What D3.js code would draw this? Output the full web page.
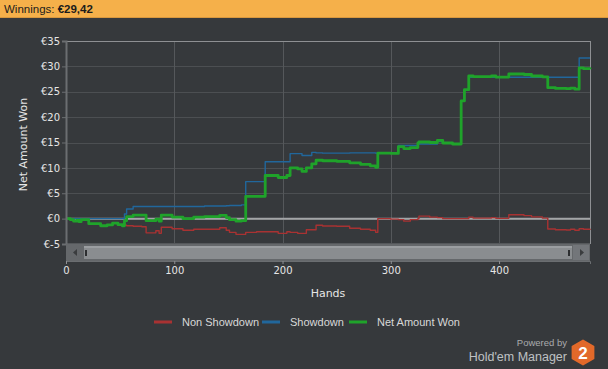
<!DOCTYPE html>
<html>
<head>
<meta charset="utf-8">
<script src="https://cdn.jsdelivr.net/npm/d3@7"></script>
<style>
    body { margin: 0; background: #36393c; }
    svg { display: block; }
    .tick-label { font-family: "DejaVu Sans", sans-serif; font-size: 10px; fill: #e6e6e6; }
    .axis-title { font-family: "DejaVu Sans", sans-serif; font-size: 11px; fill: #e6e6e6; }
    .legend-label { font-family: "Liberation Sans", Arial, sans-serif; font-size: 11px; fill: #d8d8d8; }
</style>
</head>
<body>
<div id="chart"></div>
<script>
// ── Data ─────────────────────────────────────────────────────────
const hands = [0, 4, 7, 10, 12, 14, 21, 32, 38, 43, 48, 52, 54, 56, 62, 70, 74, 83, 86, 88,
    98, 108, 118, 128, 142, 148, 151, 157, 162, 166, 176, 184, 196, 204, 207, 214, 218, 222, 227, 231,
    237, 250, 262, 272, 281, 286, 288, 300, 307, 312, 318, 325, 326, 336, 343, 348, 357, 365, 368, 372,
    376, 393, 397, 409, 423, 430, 440, 445, 452, 462, 466, 470, 474, 478, 484];

const netWon = [0, -0.2, -0.5, -0.3, -0.6, -0.2, -1.0, -1.4, -1.25, -0.9, -1.2, -1.4, -0.4, 0.4, 0.7, 0.7, -0.4, -0.1, -0.5, 0.7,
    0.3, 0.0, 0.3, 0.4, 0.65, 0.2, -0.2, -0.5, -0.4, 4.4, 4.4, 8.5, 8.1, 8.5, 10.0, 9.8, 9.3, 10.0, 10.8, 11.5,
    11.4, 11.3, 11.0, 10.7, 10.4, 10.1, 12.9, 12.85, 14.2, 13.8, 14.0, 14.9, 15.1, 15.0, 15.4, 14.9, 14.7, 23.2, 25.4, 28.1,
    28.0, 28.1, 27.9, 28.5, 28.4, 28.1, 27.95, 25.8, 25.65, 25.6, 25.7, 25.5, 29.7, 29.55, 29.42];

const showdown = [0, 0, 0, 0, 0, 0, 0, 0, 0, 0, 0, 0, 0.9, 1.9, 2.4, 2.4, 2.4, 2.4, 2.4, 2.4,
    2.4, 2.4, 2.4, 2.5, 2.5, 2.55, 2.6, 2.6, 2.7, 7.3, 7.3, 11.2, 11.2, 11.2, 12.8, 12.8, 12.45, 12.45, 13.05, 12.95,
    12.9, 12.9, 12.95, 12.95, 12.95, 12.9, 12.85, 12.85, 14.4, 14.4, 14.4, 14.9, 14.7, 14.7, 15.2, 14.9, 14.7, 23.2, 25.4, 27.85,
    27.85, 27.85, 27.85, 27.85, 27.85, 27.85, 27.85, 27.85, 27.85, 27.85, 27.85, 27.85, 31.65, 31.65, 31.65];

const nonShowdown = [0, -0.2, -0.5, -0.3, -0.6, -0.2, -1.0, -1.4, -1.25, -0.9, -1.2, -1.4, -1.3, -1.4, -1.5, -1.6, -2.8, -2.4, -2.9, -1.7,
    -2.0, -2.3, -2.1, -2.1, -1.8, -2.3, -2.7, -3.1, -3.1, -2.7, -2.6, -2.6, -2.9, -2.6, -2.7, -2.9, -2.9, -2.2, -2.2, -1.3,
    -1.45, -1.5, -1.9, -2.1, -2.3, -2.7, 0.0, -0.1, -0.2, -0.5, -0.2, 0.0, 0.5, 0.3, 0.2, 0.0, 0.0, 0.0, 0.0, 0.3,
    0.1, 0.2, 0.05, 0.75, 0.6, 0.35, 0.1, -2.05, -2.2, -2.25, -2.1, -2.3, -2.0, -2.1, -2.23];

const seriesNames = ["Non Showdown", "Showdown", "Net Amount Won"];
const seriesColors = ["#a83232", "#21679c", "#1fa32a"];
const yTicks = [-5, 0, 5, 10, 15, 20, 25, 30, 35];
const xTicks = [0, 100, 200, 300, 400];
const winnings = "€29,42";

// ── Layout ───────────────────────────────────────────────────────
const width = 608;
const height = 369;
const plot = { left: 66, right: 590, top: 41, bottom: 244 };

const svg = d3.select("#chart")
    .append("svg")
    .attr("width", width)
    .attr("height", height);

// Header bar
svg.append("rect")
    .attr("x", 0).attr("y", 0)
    .attr("width", width).attr("height", 18)
    .attr("fill", "#f5b04a");
svg.append("rect")
    .attr("x", 0).attr("y", 17)
    .attr("width", width).attr("height", 1)
    .attr("fill", "#d9983e");

const header = svg.append("text")
    .attr("x", 4).attr("y", 13)
    .attr("font-family", "Liberation Sans, Arial, sans-serif")
    .attr("font-size", 11.5)
    .attr("fill", "#1c1c1c");
header.append("tspan").text("Winnings: ");
header.append("tspan").attr("font-weight", "bold").text(winnings);

// Scales
const xScale = d3.scaleLinear()
    .domain([0, 484])
    .range([plot.left, plot.right]);

const yScale = d3.scaleLinear()
    .domain([-5, 35])
    .range([plot.bottom, plot.top]);

// Grid
svg.append("g")
    .selectAll("line")
    .data(yTicks.filter(d => d > -5 && d < 35))
    .join("line")
    .attr("x1", plot.left).attr("x2", plot.right)
    .attr("y1", d => Math.round(yScale(d)) + 0.5)
    .attr("y2", d => Math.round(yScale(d)) + 0.5)
    .attr("stroke", "#4c4f52");

svg.append("g")
    .selectAll("line")
    .data(xTicks.filter(d => d > 0))
    .join("line")
    .attr("x1", d => Math.round(xScale(d)) + 0.5)
    .attr("x2", d => Math.round(xScale(d)) + 0.5)
    .attr("y1", plot.top).attr("y2", plot.bottom)
    .attr("stroke", "#55585b");

// Plot frame
svg.append("line")
    .attr("x1", plot.left).attr("x2", plot.right + 0.5)
    .attr("y1", plot.top + 0.5).attr("y2", plot.top + 0.5)
    .attr("stroke", "#8e9093");
svg.append("line")
    .attr("x1", plot.right + 0.5).attr("x2", plot.right + 0.5)
    .attr("y1", plot.top).attr("y2", plot.bottom)
    .attr("stroke", "#8e9093");
svg.append("line")
    .attr("x1", plot.left).attr("x2", plot.right)
    .attr("y1", plot.bottom - 0.5).attr("y2", plot.bottom - 0.5)
    .attr("stroke", "#55585b");

// Zero line
svg.append("line")
    .attr("x1", plot.left).attr("x2", plot.right)
    .attr("y1", yScale(0)).attr("y2", yScale(0))
    .attr("stroke", "#a3a5a7")
    .attr("stroke-width", 2);

// Series lines
const series = [nonShowdown, showdown, netWon];
const line = d3.line()
    .x((d, i) => xScale(hands[i]))
    .y(d => yScale(d))
    .curve(d3.curveStepAfter);

svg.append("g")
    .selectAll("path")
    .data(series)
    .join("path")
    .attr("d", d => line(d))
    .attr("fill", "none")
    .attr("stroke", (d, i) => seriesColors[i])
    .attr("stroke-width", (d, i) => i === 2 ? 2.8 : 1.4)
    .attr("stroke-linejoin", "round");

// Left axis
const leftAxis = d3.axisLeft(yScale)
    .tickValues(yTicks)
    .tickSize(4)
    .tickFormat(d => `€${d}`);
const yAxisG = svg.append("g")
    .attr("transform", `translate(${plot.left},0)`)
    .call(leftAxis);
yAxisG.select(".domain").attr("stroke", "#6b6e71").attr("stroke-width", 2);
yAxisG.selectAll(".tick line").attr("stroke", "#6b6e71");
yAxisG.selectAll(".tick text")
    .attr("class", "tick-label")
    .attr("x", -6);

svg.append("text")
    .text("Net Amount Won")
    .attr("class", "axis-title")
    .attr("text-anchor", "middle")
    .attr("transform", `translate(27,${(plot.top + plot.bottom) / 2 + 2}) rotate(-90)`);

// Scrollbar
const sb = svg.append("g");
sb.append("rect")
    .attr("x", plot.left).attr("y", 244)
    .attr("width", plot.right - plot.left).attr("height", 17)
    .attr("fill", "#65686b");
sb.append("rect")
    .attr("x", 573).attr("y", 245)
    .attr("width", 16).attr("height", 15)
    .attr("fill", "#73767a");
sb.append("rect")
    .attr("x", 84).attr("y", 246)
    .attr("width", 488).attr("height", 13)
    .attr("fill", "#8a8d90");
sb.append("rect")
    .attr("x", 84).attr("y", 246)
    .attr("width", 488).attr("height", 2)
    .attr("fill", "#9b9ea1");
sb.append("rect").attr("x", 85).attr("y", 250).attr("width", 2).attr("height", 6).attr("fill", "#2c2e30");
sb.append("rect").attr("x", 568).attr("y", 250).attr("width", 2).attr("height", 6).attr("fill", "#2c2e30");
sb.append("path").attr("d", "M73,252.5 L77,249 L77,256 Z").attr("fill", "#3a3c3e");
sb.append("path").attr("d", "M584,252.5 L580,249 L580,256 Z").attr("fill", "#3a3c3e");

// Bottom axis
const bottomAxis = d3.axisBottom(xScale)
    .tickValues(xTicks)
    .tickSize(3);
const xAxisG = svg.append("g")
    .attr("transform", `translate(0,261)`)
    .call(bottomAxis);
xAxisG.select(".domain").attr("stroke", "#6b6e71");
xAxisG.selectAll(".tick line").attr("stroke", "#8e9093");
xAxisG.selectAll(".tick text")
    .attr("class", "tick-label")
    .attr("y", 6);

svg.append("text")
    .text("Hands")
    .attr("class", "axis-title")
    .attr("text-anchor", "middle")
    .attr("x", (plot.left + plot.right) / 2)
    .attr("y", 297);

// Legend
const legendX = [154, 262, 349];
const legend = svg.append("g")
    .selectAll("g")
    .data(seriesNames)
    .join("g")
    .attr("transform", (d, i) => `translate(${legendX[i]},322)`);
legend.append("line")
    .attr("x1", 0).attr("x2", 18)
    .attr("stroke", (d, i) => seriesColors[i])
    .attr("stroke-width", 3);
legend.append("text")
    .text(d => d)
    .attr("class", "legend-label")
    .attr("x", 28)
    .attr("y", 4);

// Branding
svg.append("text")
    .text("Powered by")
    .attr("text-anchor", "end")
    .attr("x", 567).attr("y", 346)
    .attr("font-family", "Liberation Sans, Arial, sans-serif")
    .attr("font-size", 9.5)
    .attr("fill", "#a9abad");
svg.append("text")
    .text("Hold'em Manager")
    .attr("text-anchor", "end")
    .attr("x", 567).attr("y", 361)
    .attr("font-family", "Liberation Sans, Arial, sans-serif")
    .attr("font-size", 12.5)
    .attr("fill", "#bfc1c3");

const hex = d3.range(6).map(k => {
    const a = Math.PI / 3 * k - Math.PI / 2;
    return [583 + 12 * Math.cos(a), 352.5 + 12 * Math.sin(a)];
});
svg.append("path")
    .attr("d", d3.line()(hex) + "Z")
    .attr("fill", "#e2692a")
    .attr("stroke", "#e2692a")
    .attr("stroke-width", 2)
    .attr("stroke-linejoin", "round");
svg.append("text")
    .text("2")
    .attr("text-anchor", "middle")
    .attr("x", 583).attr("y", 359)
    .attr("font-family", "Liberation Sans, Arial, sans-serif")
    .attr("font-weight", "bold")
    .attr("font-size", 17)
    .attr("fill", "#ffffff");
</script>
</body>
</html>
